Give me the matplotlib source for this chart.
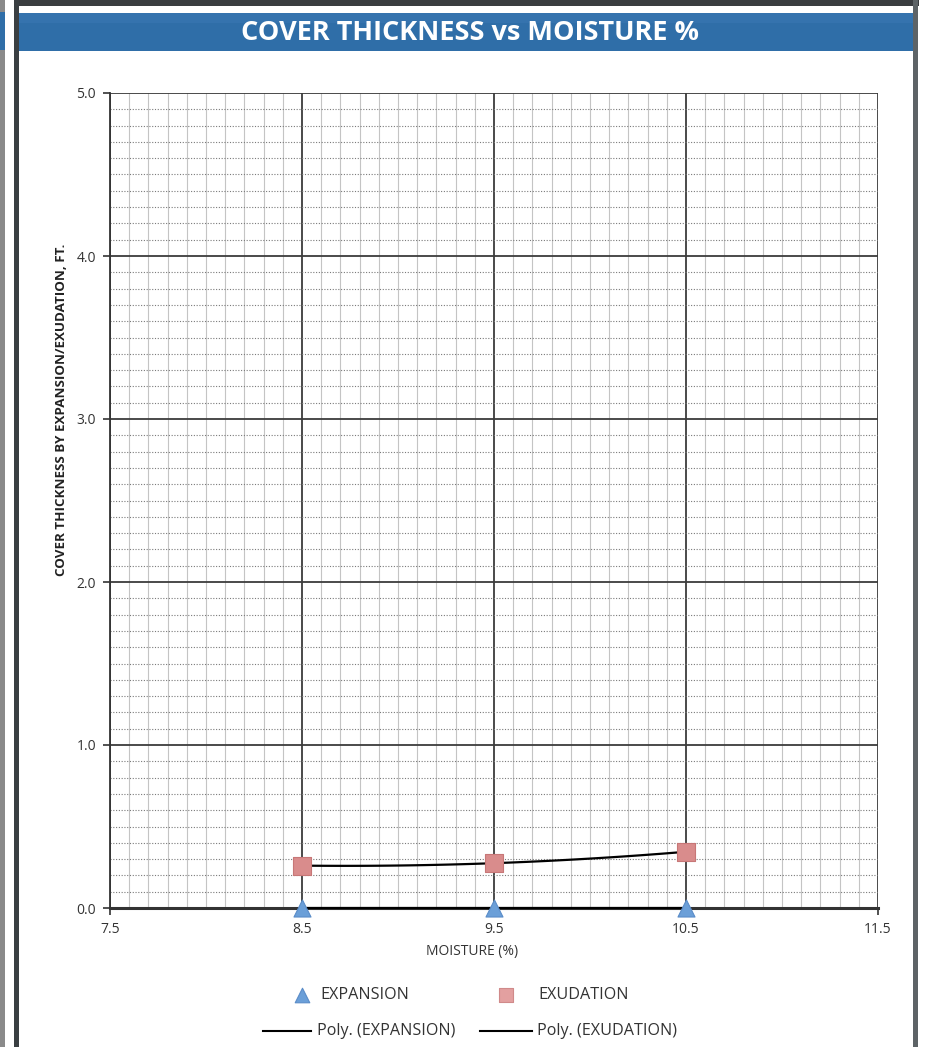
import numpy as np
import matplotlib
matplotlib.use("Agg")
import matplotlib.pyplot as plt
from matplotlib.patches import Rectangle
from matplotlib.ticker import MultipleLocator

# ---- data ----
moisture = [8.5, 9.5, 10.5]
expansion = [0.0, 0.0, 0.0]
exudation = [0.26, 0.275, 0.345]
x_ticks = [7.5, 8.5, 9.5, 10.5, 11.5]
y_ticks = [0.0, 1.0, 2.0, 3.0, 4.0, 5.0]
title = "COVER THICKNESS vs MOISTURE %"
xlabel = "MOISTURE (%)"
ylabel = "COVER THICKNESS BY EXPANSION/EXUDATION, FT."

W, H = 925, 1047
fig = plt.figure(figsize=(W / 100, H / 100), dpi=100)
fig.patch.set_facecolor("white")

def fx(px):
    return px / W

def fy(py):
    return 1 - py / H

FONT = "Open Sans"

# ---- frame / header decorations ----
ov = fig.add_axes([0, 0, 1, 1], zorder=-5)
ov.set_xlim(0, W)
ov.set_ylim(H, 0)
ov.axis("off")
ov.add_patch(Rectangle((0, 0), 5, H, color="#8a8a8a", lw=0))
ov.add_patch(Rectangle((0, 12), 5, 38, color="#2f6ea8", lw=0))
ov.add_patch(Rectangle((14, 0), 5, H, color="#3a3f42", lw=0))
ov.add_patch(Rectangle((19, 0), 900, 6, color="#3a3d40", lw=0))
ov.add_patch(Rectangle((913, 0), 5, H, color="#5d6366", lw=0))
ov.add_patch(Rectangle((19, 13), 894, 38, color="#2f6ea8", lw=0))
ov.add_patch(Rectangle((19, 13), 894, 10, color="#3a78b3", lw=0, alpha=0.6))
ov.text(470, 33, title, color="white", fontsize=19.5, fontweight="bold",
        family=FONT, ha="center", va="center")

# ---- main axes ----
left, right, top, bottom = 110, 878, 93, 908
ax = fig.add_axes([fx(left), fy(bottom), fx(right - left), fy(top) - fy(bottom)])
ax.set_xlim(7.5, 11.5)
ax.set_ylim(0, 5.0)
ax.set_xticks(x_ticks)
ax.set_xticklabels([f"{v:.1f}" for v in x_ticks], family=FONT, fontsize=10, color="#333333")
ax.set_yticks(y_ticks)
ax.set_yticklabels([f"{v:.1f}" for v in y_ticks], family=FONT, fontsize=10, color="#333333")
ax.xaxis.set_minor_locator(MultipleLocator(0.1))
ax.yaxis.set_minor_locator(MultipleLocator(0.1))
ax.tick_params(which="major", length=5, width=1.2, color="#333333", direction="out", pad=5)
ax.tick_params(which="minor", length=0)

ax.grid(which="major", color="#3c3c3c", lw=1.3, ls="-", zorder=1)
ax.xaxis.grid(which="minor", color="#c4c4c4", lw=0.8, ls="-", zorder=0)
ax.yaxis.grid(which="minor", color="#7a7a7a", lw=0.8, ls=(0, (1, 1.5)), zorder=0)

for s in ["top", "right"]:
    ax.spines[s].set_visible(False)
ax.spines["left"].set_color("#333333")
ax.spines["left"].set_linewidth(1.3)
ax.spines["bottom"].set_color("#333333")
ax.spines["bottom"].set_linewidth(2.2)

# polynomial trendlines (order 2)
xs = np.linspace(min(moisture), max(moisture), 100)
p_exp = np.polyfit(moisture, expansion, 2)
p_exu = np.polyfit(moisture, exudation, 2)
ax.plot(xs, np.polyval(p_exp, xs), color="black", lw=1.6, zorder=3, clip_on=False)
ax.plot(xs, np.polyval(p_exu, xs), color="black", lw=1.6, zorder=3, clip_on=False)

ax.scatter(moisture, expansion, marker="^", s=150, color="#6b9fd8",
           edgecolor="#5a8cc8", lw=0.8, zorder=5, clip_on=False)
ax.scatter(moisture, exudation, marker="s", s=150, color="#d98c8c",
           edgecolor="#c77777", lw=0.8, zorder=5, clip_on=False)

# axis labels
fig.text(fx(472), fy(952), xlabel, family=FONT, fontsize=10, color="#333333",
         ha="center", va="center")
fig.text(fx(62), fy(410), ylabel, family=FONT, fontsize=9.6, fontweight="bold",
         color="#222222", ha="center", va="center", rotation=90)

# legend (manual placement to match)
lg = fig.add_axes([0, 0, 1, 1], zorder=10)
lg.set_xlim(0, W)
lg.set_ylim(H, 0)
lg.axis("off")
lg.scatter([302], [995], marker="^", s=110, color="#6b9fd8", edgecolor="#5a8cc8", lw=0.8)
lg.text(320, 995, "EXPANSION", family=FONT, fontsize=11.6, color="#333333", va="center")
lg.scatter([506], [995], marker="s", s=100, color="#e3a0a0", edgecolor="#d08a8a", lw=0.8)
lg.text(538, 995, "EXUDATION", family=FONT, fontsize=11.6, color="#333333", va="center")
lg.plot([263, 311], [1031, 1031], color="black", lw=1.5)
lg.text(317, 1031, "Poly. (EXPANSION)", family=FONT, fontsize=11.6, color="#333333", va="center")
lg.plot([480, 532], [1031, 1031], color="black", lw=1.5)
lg.text(537, 1031, "Poly. (EXUDATION)", family=FONT, fontsize=11.6, color="#333333", va="center")

fig.savefig("out.png", dpi=100, facecolor="white")
